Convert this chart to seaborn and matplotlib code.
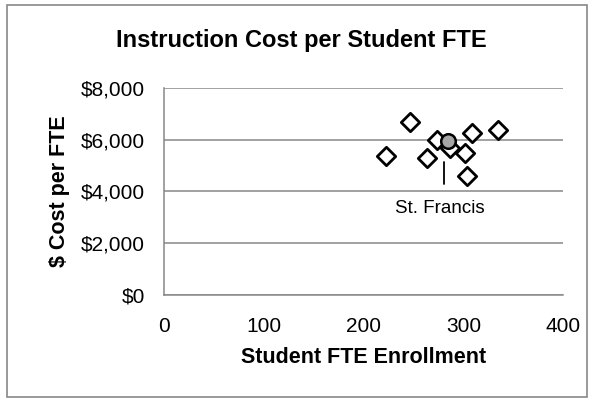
import matplotlib
matplotlib.use("Agg")
import matplotlib.pyplot as plt
from matplotlib.patches import Rectangle
from matplotlib.ticker import FuncFormatter
import pandas as pd
import seaborn as sns

# peer colleges
enrollment = [222, 246, 263, 273, 286, 301, 303, 308, 334]
cost = [5360, 6670, 5290, 5980, 5670, 5480, 4590, 6250, 6370]

# highlighted school
highlight_name = "St. Francis"
highlight_x = [284]
highlight_y = [5940]

x_ticks = [0, 100, 200, 300, 400]
y_ticks = [0, 2000, 4000, 6000, 8000]

sns.set_theme(style="white")
plt.rcParams["font.family"] = ["Liberation Sans", "DejaVu Sans"]
plt.rcParams["text.color"] = "black"
plt.rcParams["axes.labelcolor"] = "black"

df = pd.DataFrame({"fte": enrollment, "cost": cost})
hl = pd.DataFrame({"fte": highlight_x, "cost": highlight_y})

fig = plt.figure(figsize=(5.95, 4.03), dpi=100)
ax = fig.add_axes([0.276, 0.269, 0.671, 0.513])

grey = "#878787"
ax.yaxis.grid(True, color=grey, linewidth=1.1)
ax.set_axisbelow(True)

sns.scatterplot(data=df, x="fte", y="cost", marker="D", s=88,
                facecolor="white", edgecolor="black", linewidth=2.0, ax=ax, zorder=3)
sns.scatterplot(data=hl, x="fte", y="cost", marker="o", s=110,
                color="#a6a6a6", edgecolor="black", linewidth=1.8, ax=ax, zorder=4)

# leader line + label
ax.plot([280, 280], [4280, 5130], color="black", linewidth=1.3, zorder=2)
ax.text(276, 3350, highlight_name, ha="center", va="center", fontsize=13.5, color="black")

ax.set_xlim(0, 400)
ax.set_ylim(0, 8000)
ax.set_xticks(x_ticks)
ax.set_yticks(y_ticks)
ax.yaxis.set_major_formatter(FuncFormatter(lambda v, p: f"${v:,.0f}"))
ax.tick_params(length=0, labelsize=15, colors="black")
ax.tick_params(axis="x", pad=16)
ax.tick_params(axis="y", pad=14)

for s in ["top", "right"]:
    ax.spines[s].set_visible(False)
for s in ["left", "bottom"]:
    ax.spines[s].set_color(grey)
    ax.spines[s].set_linewidth(1.1)

ax.set_xlabel("Student FTE Enrollment", fontsize=15.5, fontweight="bold", labelpad=8, color="black")
ax.set_ylabel("$ Cost per FTE", fontsize=15.5, fontweight="bold", labelpad=8, color="black")

fig.text(0.507, 0.90, "Instruction Cost per Student FTE", ha="center", va="center",
         fontsize=17, fontweight="bold", color="black")

fig.patches.append(Rectangle((0.012, 0.015), 0.975, 0.972, transform=fig.transFigure,
                             fill=False, edgecolor=grey, linewidth=1.2))

fig.savefig("out.png", dpi=100)
